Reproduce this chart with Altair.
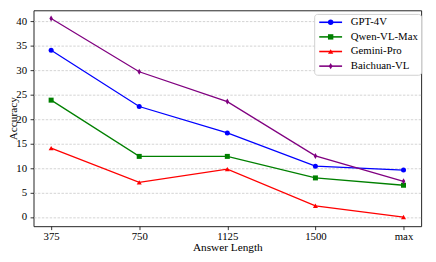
import altair as alt
import pandas as pd

lengths = ["375", "750", "1125", "1500", "max"]
models = ["GPT-4V", "Qwen-VL-Max", "Gemini-Pro", "Baichuan-VL"]
gpt4v = [34.1, 22.6, 17.2, 10.4, 9.6]
qwen = [23.9, 12.4, 12.4, 8.0, 6.5]
gemini = [14.1, 7.1, 9.8, 2.3, 0.0]
baichuan = [40.6, 29.7, 23.6, 12.5, 7.3]
colors = ["#0000ff", "#008000", "#ff0000", "#800080"]
shapes = ["circle", "square", "triangle-up", "M0,-1.2L0.7,0L0,1.2L-0.7,0Z"]

series = [gpt4v, qwen, gemini, baichuan]
rows = []
for m, vals in zip(models, series):
    for l, v in zip(lengths, vals):
        rows.append({"length": l, "model": m, "model2": m, "value": v})
df = pd.DataFrame(rows)

FONT = "Liberation Serif"

x = alt.X("length:N", sort=lengths,
          scale=alt.Scale(type="point", padding=0.2),
          axis=alt.Axis(title="Answer Length", labelAngle=0, labelPadding=1,
                        titleY=22, titleBaseline="middle"))
y = alt.Y("value:Q", scale=alt.Scale(domain=[-1.87, 42.27], nice=False, zero=False),
          axis=alt.Axis(title="Accuracy", values=[0, 5, 10, 15, 20, 25, 30, 35, 40],
                        labelPadding=3.5, titleX=-20.5, titleBaseline="middle"))

LX, LY = 286, 3.7
common_leg = dict(orient="none", legendX=LX, legendY=LY, title=None,
                  labelFont=FONT, labelFontSize=11, symbolSize=30,
                  symbolOffset=8.3, rowPadding=2.9, padding=3, labelOffset=15)

lines = alt.Chart(df).mark_line(strokeWidth=1.3).encode(
    x=x, y=y,
    color=alt.Color("model:N", scale=alt.Scale(domain=models, range=colors),
                    legend=alt.Legend(symbolType="M-4.25,0H4.25", symbolStrokeWidth=1.6,
                                      fillColor="white", strokeColor="#d0d0d0",
                                      cornerRadius=3, labelColor="black",
                                      **common_leg)),
    detail="model:N",
)

marker_leg = alt.Legend(labelExpr="''", **common_leg)
points = alt.Chart(df).mark_point(filled=True, size=26, opacity=1).encode(
    x=x, y=y,
    color=alt.Color("model2:N", scale=alt.Scale(domain=models, range=colors),
                    legend=marker_leg),
    shape=alt.Shape("model2:N", scale=alt.Scale(domain=models, range=shapes),
                    legend=marker_leg),
)

chart = alt.layer(lines, points).resolve_scale(
    color="independent", shape="independent"
).resolve_legend(color="independent", shape="independent").properties(
    width=395, height=220,
    autosize=alt.AutoSizeParams(type="none"),
    padding={"left": 26, "top": 0, "right": 7, "bottom": 26},
).configure_view(
    stroke="#222222", strokeWidth=1
).configure_axis(
    domain=False,
    labelFont=FONT, labelFontSize=11, labelColor="black",
    titleFont=FONT, titleFontSize=11.5, titleFontWeight="normal", titleColor="black",
    tickColor="black", tickSize=3.5, tickWidth=0.8,
    gridColor="#c8c8c8", gridDash=[2.5, 1.5], gridWidth=0.8,
)

chart.save("out.html", embed_options={"renderer": "svg", "actions": False})
